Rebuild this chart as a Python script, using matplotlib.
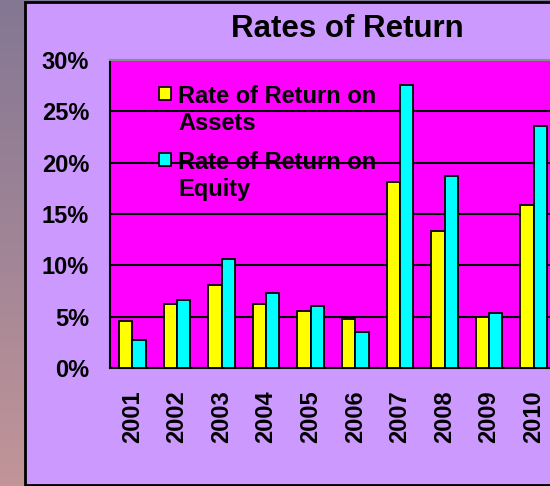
import numpy as np
import matplotlib
matplotlib.use('Agg')
import matplotlib.pyplot as plt
import matplotlib.patches as mpatches
from matplotlib.colors import LinearSegmentedColormap

plt.rcParams['font.family'] = ['Liberation Sans', 'DejaVu Sans']
plt.rcParams['font.weight'] = 'bold'

# Chart data (in %)
years = ['2001', '2002', '2003', '2004', '2005', '2006', '2007', '2008', '2009', '2010']
assets = [4.6, 6.2, 8.1, 6.2, 5.6, 4.8, 18.1, 13.3, 5.0, 15.9]
equity = [2.7, 6.6, 10.6, 7.3, 6.0, 3.5, 27.6, 18.7, 5.4, 23.6]
y_ticks = [0, 5, 10, 15, 20, 25, 30]
series_labels = ['Rate of Return on\nAssets', 'Rate of Return on\nEquity']
series_colors = ['#ffff00', '#00ffff']

W, H = 550, 486
fig = plt.figure(figsize=(W / 100, H / 100), dpi=100)

# Slide background gradient (outside the chart box)
bg = fig.add_axes([0, 0, 1, 1], zorder=-10)
grad = np.linspace(0, 1, 256).reshape(-1, 1)
cmap = LinearSegmentedColormap.from_list('bg', ['#847793', '#a08596', '#c29598'])
bg.imshow(grad, aspect='auto', cmap=cmap, extent=[0, 1, 0, 1], origin='upper')
bg.set_axis_off()

# Chart box
box = mpatches.Rectangle((25 / W, 1 / H), 1.0, 483 / H, transform=fig.transFigure,
                         facecolor='#cc99ff', edgecolor='black', linewidth=2, zorder=-5)
fig.patches.append(box)

# Plot area
ax = fig.add_axes([110 / W, (H - 368) / H, 446 / W, 308 / H])
ax.set_facecolor('#ff00ff')
x = np.arange(len(years))
bw = 0.3
ax.bar(x - bw / 2, assets, bw, color=series_colors[0], edgecolor='black', linewidth=1.3, zorder=3)
ax.bar(x + bw / 2, equity, bw, color=series_colors[1], edgecolor='black', linewidth=1.3, zorder=3)

ax.set_xlim(-0.5, len(years) - 0.5)
ax.set_ylim(0, 30)
ax.set_yticks(y_ticks)
ax.set_yticklabels([str(t) + '%' for t in y_ticks], fontsize=17, fontweight='bold')
ax.set_xticks(x)
ax.set_xticklabels(years, rotation=90, fontsize=17, fontweight='bold')
ax.tick_params(axis='y', length=0, pad=15)
ax.tick_params(axis='x', length=0, pad=16)
ax.yaxis.grid(True, color='black', linewidth=1.5, zorder=1)
ax.set_axisbelow(True)
ax.spines['right'].set_visible(False)
ax.spines['top'].set_color('#8c8c8c')
ax.spines['top'].set_linewidth(1.5)
ax.spines['left'].set_linewidth(1.5)
ax.spines['bottom'].set_linewidth(1.5)

# Title
fig.text(347 / W, 1 - 29 / H, 'Rates of Return', ha='center', va='center',
         fontsize=22.5, fontweight='bold')

# Legend (square markers aligned to first line of each label)
tr = ax.transAxes
for i, (lab, col) in enumerate(zip(series_labels, series_colors)):
    top_px = 87 + 66 * i
    sq = mpatches.Rectangle(((159 - 110) / 446, (368 - top_px - 13) / 308), 12 / 446, 13 / 308,
                            transform=tr, facecolor=col, edgecolor='black', linewidth=1.2,
                            clip_on=False, zorder=5)
    ax.add_patch(sq)
    for j, line in enumerate(lab.split('\n')):
        base_px = top_px + 16 + 27 * j
        ax.text((178 - 110) / 446, (368 - base_px) / 308, line, transform=tr,
                ha='left', va='baseline', fontsize=17, fontweight='bold', zorder=5)

fig.savefig('out.png', dpi=100)
